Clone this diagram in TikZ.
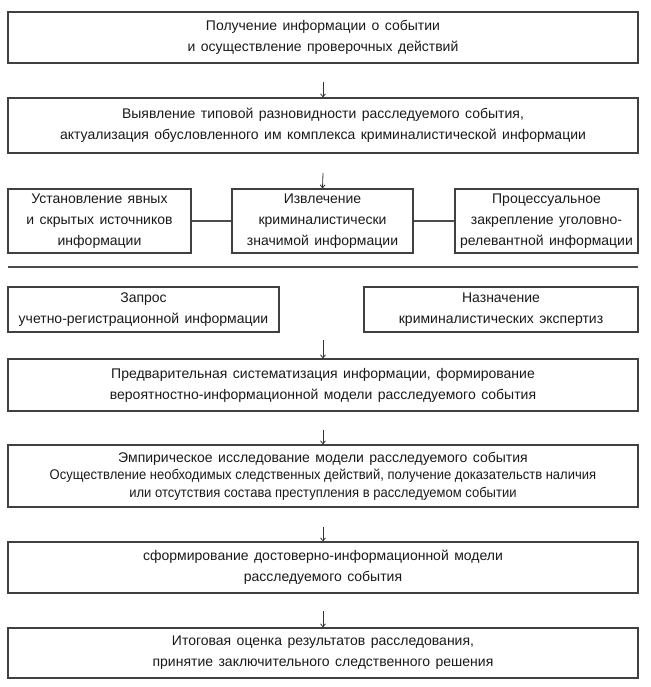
\documentclass[tikz,border=0pt]{standalone}
\usepackage{fontspec}
\setmainfont{Liberation Sans}[WordSpace=1.4]
\newfontfamily\narrowfont[FakeStretch=0.93]{Liberation Sans}
\usetikzlibrary{positioning, arrows.meta}

\begin{document}
\begin{tikzpicture}[x=1pt,y=-1pt,
    infobox/.style={draw=black!75, line width=1.2pt, rectangle, inner sep=0pt,
        align=center, text=black!90, font=\fontsize{14}{21}\selectfont},
    flowarrow/.style={draw=black!80, line width=0.8pt, -{Straight Barb[length=3pt,width=5pt]}},
    joinline/.style={draw=black!70, line width=1.2pt}]
    \useasboundingbox (0,0) rectangle (650,687);

    % Receiving information
    \node[infobox, minimum width=630pt, minimum height=51pt] (receive) at (323,37.5)
        {Получение информации о событии\\и осуществление проверочных действий};
    % Typical kind of the event
    \node[infobox, minimum width=630pt, minimum height=55pt] (kind) at (323,125.5)
        {Выявление типовой разновидности расследуемого события,\\актуализация обусловленного им комплекса криминалистической информации};

    % Three boxes in a row
    \node[infobox, minimum width=183pt, minimum height=64pt] (sources) at (99.5,221)
        {Установление явных\\и скрытых источников\\информации};
    \node[infobox, minimum width=181pt, minimum height=64pt] (extract) at (322.5,221)
        {Извлечение\\криминалистически\\значимой информации};
    \node[infobox, minimum width=183pt, minimum height=64pt] (fixing) at (546.5,221)
        {Процессуальное\\закрепление уголовно-\\релевантной информации};
    \draw[joinline] (sources.east) -- (extract.west);
    \draw[joinline] (extract.east) -- (fixing.west);

    % Separator
    \coordinate (sepL) at (8,267);
    \coordinate (sepR) at (638,267);
    \draw[joinline, line width=1.5pt] (sepL) -- (sepR);

    % Two requests
    \node[infobox, minimum width=271pt, minimum height=45pt] (request) at (143.5,309.5)
        {Запрос\\учетно-регистрационной информации};
    \node[infobox, minimum width=274pt, minimum height=45pt] (expert) at (501,309.5)
        {Назначение\\криминалистических экспертиз};

    % Lower chain
    \node[infobox, minimum width=630pt, minimum height=52pt] (prelim) at (323,385)
        {Предварительная систематизация информации, формирование\\вероятностно-информационной модели расследуемого события};
    \node[infobox, minimum width=630pt, minimum height=62pt] (empiric) at (323,476)
        {Эмпирическое исследование модели расследуемого события\\[-3.5pt]
         {\narrowfont Осуществление необходимых следственных действий, получение доказательств наличия}\\[-3.5pt]
         {\narrowfont или отсутствия состава преступления в расследуемом событии}};
    \node[infobox, minimum width=630pt, minimum height=51pt] (reliable) at (323,567.5)
        {сформирование достоверно-информационной модели\\расследуемого события};
    \node[infobox, minimum width=630pt, minimum height=50pt] (final) at (323,653)
        {Итоговая оценка результатов расследования,\\принятие заключительного следственного решения};

    % Arrows
    \coordinate (a1) at (323,82);
    \coordinate (a2) at (323,173);
    \coordinate (a3) at (323,340);
    \coordinate (a4) at (323,430);
    \coordinate (a5) at (323,527);
    \coordinate (a6) at (323,611);
    \draw[flowarrow] (a1) -- (kind.north);
    \draw[flowarrow] (a2) -- (extract.north);
    \draw[flowarrow] (a3) -- (prelim.north);
    \draw[flowarrow] (a4) -- (empiric.north);
    \draw[flowarrow] (a5) -- (reliable.north);
    \draw[flowarrow] (a6) -- (final.north);
\end{tikzpicture}
\end{document}
